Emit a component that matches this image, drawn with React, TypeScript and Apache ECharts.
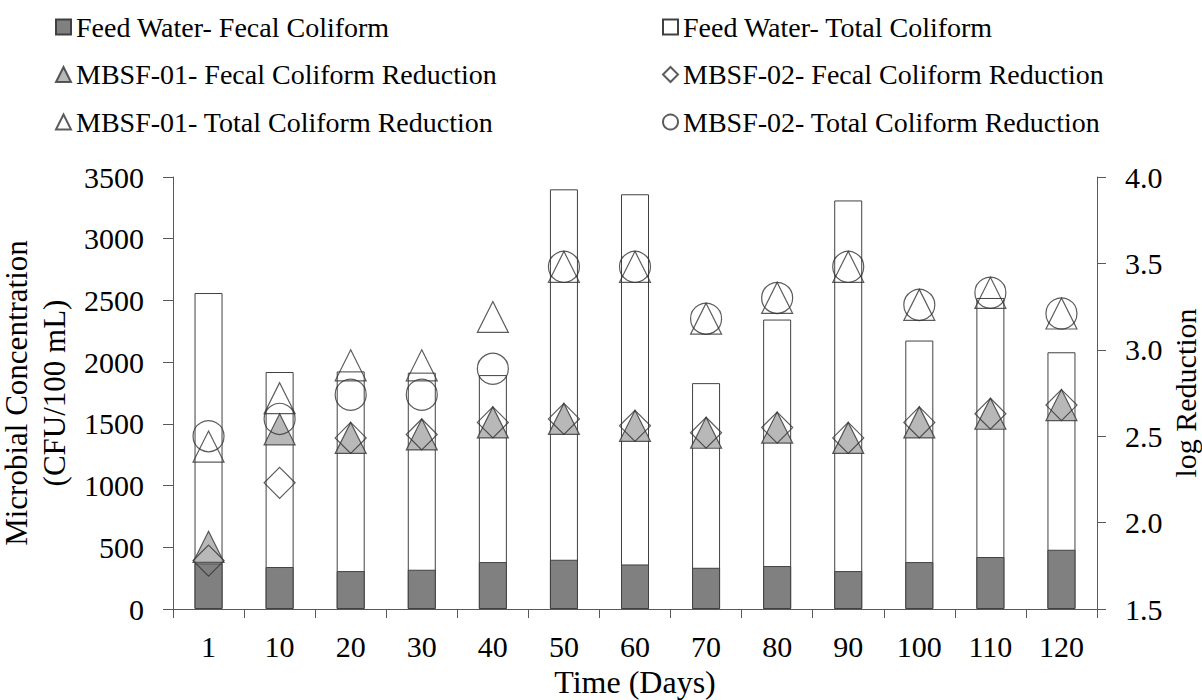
import React, { useEffect, useRef } from "react";
import * as echarts from "echarts";

// Sampling days (x categories)
const days = ["1", "10", "20", "30", "40", "50", "60", "70", "80", "90", "100", "110", "120"];

// Feed water concentrations, CFU/100 mL (left axis)
const feedTotal = [2560, 1920, 1925, 1915, 1895, 3400, 3360, 1830, 2345, 3310, 2175, 2520, 2080];
const feedFecal = [370, 340, 307, 318, 380, 399, 361, 334, 348, 307, 380, 421, 480];

// Log reductions (right axis)
const mbsf01Fecal = [1.86, 2.54, 2.49, 2.51, 2.58, 2.6, 2.56, 2.52, 2.55, 2.49, 2.58, 2.63, 2.68];
const mbsf02Fecal = [1.78, 2.23, 2.49, 2.51, 2.58, 2.6, 2.56, 2.52, 2.55, 2.49, 2.58, 2.63, 2.68];
const mbsf01Total = [2.44, 2.72, 2.91, 2.91, 3.19, 3.48, 3.48, 3.18, 3.3, 3.48, 3.26, 3.33, 3.21];
const mbsf02Total = [2.5, 2.6, 2.74, 2.74, 2.89, 3.48, 3.48, 3.18, 3.3, 3.48, 3.26, 3.33, 3.21];

// Left-axis and right-axis ticks
const concTicks = { min: 0, max: 3500, interval: 500 };
const logTicks = { min: 1.5, max: 4.0, interval: 0.5 };

const NAMES = {
  feedFecal: "Feed Water- Fecal Coliform",
  feedTotal: "Feed Water- Total Coliform",
  m1Fecal: "MBSF-01- Fecal Coliform Reduction",
  m2Fecal: "MBSF-02- Fecal Coliform Reduction",
  m1Total: "MBSF-01- Total Coliform Reduction",
  m2Total: "MBSF-02- Total Coliform Reduction",
};

const FONT = "'Liberation Serif', 'Times New Roman', serif";
const AXIS_COLOR = "#595959";
const EDGE = "#333333";

export default function App() {
  const ref = useRef<HTMLDivElement>(null);

  useEffect(() => {
    if (!ref.current) return;
    const chart = echarts.init(ref.current, undefined, { renderer: "svg" });

    const legendText = { fontFamily: FONT, fontSize: 28, color: "#000", lineHeight: 30 };
    const symbolSize = 31;

    chart.setOption({
      animation: false,
      backgroundColor: "#ffffff",
      textStyle: { fontFamily: FONT },
      legend: [
        {
          orient: "vertical",
          left: 50,
          top: 7,
          itemWidth: 15,
          itemHeight: 15,
          itemGap: 17.5,
          selectedMode: false,
          textStyle: legendText,
          data: [
            { name: NAMES.feedFecal, icon: "rect" },
            { name: NAMES.m1Fecal, icon: "triangle" },
            { name: NAMES.m1Total, icon: "triangle" },
          ],
        },
        {
          orient: "vertical",
          left: 657,
          top: 7,
          itemWidth: 15,
          itemHeight: 15,
          itemGap: 17.5,
          selectedMode: false,
          textStyle: legendText,
          data: [
            { name: NAMES.feedTotal, icon: "rect" },
            { name: NAMES.m2Fecal, icon: "diamond" },
            { name: NAMES.m2Total, icon: "circle" },
          ],
        },
      ],
      // Right-axis title, rotated to read bottom-to-top
      graphic: [
        {
          type: "text",
          x: 1185,
          y: 393,
          rotation: Math.PI / 2,
          style: {
            text: "log Reduction",
            fontFamily: FONT,
            fontSize: 30,
            fill: "#000",
            align: "center",
            verticalAlign: "middle",
          },
        },
      ],
      grid: {
        left: 173,
        right: 105,
        top: 177,
        bottom: 91,
        containLabel: false,
        outerBoundsMode: "none",
      },
      xAxis: {
        type: "category",
        data: days,
        boundaryGap: true,
        axisLine: { lineStyle: { color: AXIS_COLOR, width: 1 } },
        axisTick: { show: true, length: 9, lineStyle: { color: AXIS_COLOR } },
        axisLabel: { fontFamily: FONT, fontSize: 30, color: "#000", margin: 22 },
        name: "Time (Days)",
        nameLocation: "middle",
        nameGap: 56,
        nameTextStyle: { fontFamily: FONT, fontSize: 32, color: "#000" },
      },
      yAxis: [
        {
          type: "value",
          ...concTicks,
          position: "left",
          axisLine: { show: true, lineStyle: { color: AXIS_COLOR, width: 1 } },
          axisTick: { show: true, length: 10, lineStyle: { color: AXIS_COLOR } },
          splitLine: { show: false },
          axisLabel: {
            fontFamily: FONT,
            fontSize: 30,
            color: "#000",
            margin: 29,
            formatter: (v: number) => String(v),
          },
          name: "Microbial Concentration\n(CFU/100 mL)",
          nameLocation: "middle",
          nameRotate: 90,
          nameGap: 86,
          nameTextStyle: { fontFamily: FONT, fontSize: 31, color: "#000", lineHeight: 38 },
        },
        {
          type: "value",
          ...logTicks,
          position: "right",
          axisLine: { show: true, lineStyle: { color: AXIS_COLOR, width: 1 } },
          axisTick: { show: true, length: 9, lineStyle: { color: AXIS_COLOR } },
          splitLine: { show: false },
          axisLabel: {
            fontFamily: FONT,
            fontSize: 30,
            color: "#000",
            margin: 28,
            formatter: (v: number) => v.toFixed(1),
          },
        },
      ],
      series: [
        {
          name: NAMES.feedTotal,
          type: "bar",
          yAxisIndex: 0,
          data: feedTotal,
          barWidth: 28,
          barGap: "-100%",
          itemStyle: { color: "#ffffff", borderColor: "#404040", borderWidth: 1 },
          z: 1,
        },
        {
          name: NAMES.feedFecal,
          type: "bar",
          yAxisIndex: 0,
          data: feedFecal,
          barWidth: 28,
          barGap: "-100%",
          itemStyle: { color: "#808080", borderColor: "#404040", borderWidth: 1 },
          z: 2,
        },
        {
          name: NAMES.m1Fecal,
          type: "scatter",
          yAxisIndex: 1,
          data: mbsf01Fecal,
          symbol: "triangle",
          symbolSize,
          itemStyle: { color: "#a6a6a6", borderColor: EDGE, borderWidth: 1.2 },
          z: 3,
        },
        {
          name: NAMES.m2Fecal,
          type: "scatter",
          yAxisIndex: 1,
          data: mbsf02Fecal,
          symbol: "diamond",
          symbolSize,
          itemStyle: { color: "rgba(255,255,255,0)", borderColor: EDGE, borderWidth: 1.2 },
          z: 4,
        },
        {
          name: NAMES.m1Total,
          type: "scatter",
          yAxisIndex: 1,
          data: mbsf01Total,
          symbol: "triangle",
          symbolSize,
          itemStyle: { color: "rgba(255,255,255,0)", borderColor: EDGE, borderWidth: 1.2 },
          z: 5,
        },
        {
          name: NAMES.m2Total,
          type: "scatter",
          yAxisIndex: 1,
          data: mbsf02Total,
          symbol: "circle",
          symbolSize,
          itemStyle: { color: "rgba(255,255,255,0)", borderColor: EDGE, borderWidth: 1.2 },
          z: 6,
        },
      ],
    });

    return () => chart.dispose();
  }, []);

  return (
    <div
      ref={ref}
      style={{ position: "fixed", left: 0, top: 0, width: 1202, height: 700, background: "#fff" }}
    />
  );
}
